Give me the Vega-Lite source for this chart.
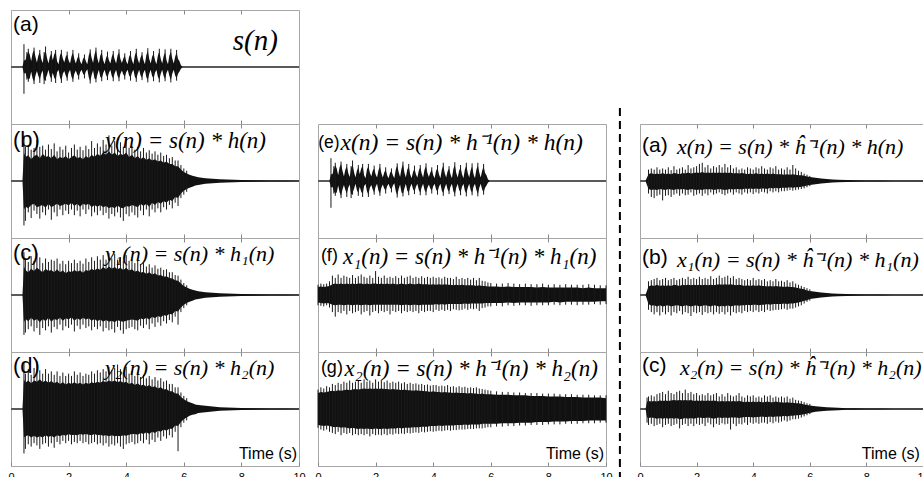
{
"$schema": "https://vega.github.io/schema/vega-lite/v6.json",
"padding": {"left": 7, "top": 9, "right": 0, "bottom": 0},
"background": "white",
"config": {"view": {"stroke": "#a6a6a6", "strokeWidth": 1}, "axis": {"grid": false, "domain": false}},
"datasets": {
"sA": [{"t":0.4,"h":0.01,"l":-0.01},{"t":0.45,"h":0.12,"l":-0.12,"u":0.4,"d":-0.47},{"t":0.5,"h":0.12,"l":-0.1},{"t":0.55,"h":0.2,"l":-0.18,"u":0.26,"d":-0.22},{"t":0.6,"h":0.28,"l":-0.22,"u":0.32,"d":-0.26},{"t":0.65,"h":0.22,"l":-0.2},{"t":0.7,"h":0.1,"l":-0.08},{"t":0.75,"h":0.24,"l":-0.2},{"t":0.8,"h":0.3,"l":-0.26,"u":0.34,"d":-0.3},{"t":0.85,"h":0.18,"l":-0.15},{"t":0.9,"h":0.08,"l":-0.07},{"t":0.95,"h":0.2,"l":-0.16},{"t":1.0,"h":0.26,"l":-0.22,"u":0.3,"d":-0.28},{"t":1.05,"h":0.14,"l":-0.12},{"t":1.1,"h":0.07,"l":-0.06},{"t":1.15,"h":0.22,"l":-0.24,"u":0.26,"d":-0.3},{"t":1.2,"h":0.3,"l":-0.2,"u":0.36,"d":-0.24},{"t":1.25,"h":0.16,"l":-0.14},{"t":1.3,"h":0.06,"l":-0.05},{"t":1.35,"h":0.18,"l":-0.16},{"t":1.4,"h":0.24,"l":-0.21,"u":0.28,"d":-0.26},{"t":1.45,"h":0.12,"l":-0.1},{"t":1.5,"h":0.22,"l":-0.19},{"t":1.55,"h":0.27,"l":-0.23,"u":0.3,"d":-0.28},{"t":1.6,"h":0.1,"l":-0.09},{"t":1.65,"h":0.05,"l":-0.05},{"t":1.7,"h":0.2,"l":-0.18},{"t":1.75,"h":0.26,"l":-0.24,"u":0.3,"d":-0.28},{"t":1.8,"h":0.15,"l":-0.12},{"t":1.85,"h":0.08,"l":-0.07},{"t":1.9,"h":0.18,"l":-0.15},{"t":1.95,"h":0.22,"l":-0.2,"u":0.27,"d":-0.24},{"t":2.0,"h":0.12,"l":-0.1},{"t":2.05,"h":0.06,"l":-0.05},{"t":2.1,"h":0.19,"l":-0.17},{"t":2.15,"h":0.25,"l":-0.22,"u":0.3,"d":-0.26},{"t":2.2,"h":0.14,"l":-0.12},{"t":2.25,"h":0.06,"l":-0.06},{"t":2.3,"h":0.15,"l":-0.13},{"t":2.35,"h":0.2,"l":-0.17,"u":0.24,"d":-0.22},{"t":2.4,"h":0.1,"l":-0.09},{"t":2.45,"h":0.05,"l":-0.05},{"t":2.5,"h":0.14,"l":-0.12},{"t":2.55,"h":0.18,"l":-0.15,"u":0.22,"d":-0.2},{"t":2.6,"h":0.1,"l":-0.08},{"t":2.65,"h":0.05,"l":-0.04},{"t":2.7,"h":0.2,"l":-0.18},{"t":2.75,"h":0.27,"l":-0.25,"u":0.31,"d":-0.29},{"t":2.8,"h":0.16,"l":-0.14},{"t":2.85,"h":0.07,"l":-0.06},{"t":2.9,"h":0.22,"l":-0.2},{"t":2.95,"h":0.3,"l":-0.22,"u":0.34,"d":-0.27},{"t":3.0,"h":0.15,"l":-0.13},{"t":3.05,"h":0.06,"l":-0.05},{"t":3.1,"h":0.2,"l":-0.17},{"t":3.15,"h":0.25,"l":-0.2,"u":0.3,"d":-0.25},{"t":3.2,"h":0.12,"l":-0.11},{"t":3.25,"h":0.05,"l":-0.05},{"t":3.3,"h":0.16,"l":-0.14},{"t":3.35,"h":0.22,"l":-0.19,"u":0.27,"d":-0.23},{"t":3.4,"h":0.12,"l":-0.1},{"t":3.45,"h":0.06,"l":-0.05},{"t":3.5,"h":0.18,"l":-0.16},{"t":3.55,"h":0.24,"l":-0.2,"u":0.28,"d":-0.25},{"t":3.6,"h":0.13,"l":-0.11},{"t":3.65,"h":0.06,"l":-0.05},{"t":3.7,"h":0.2,"l":-0.16},{"t":3.75,"h":0.26,"l":-0.2,"u":0.31,"d":-0.25},{"t":3.8,"h":0.14,"l":-0.12},{"t":3.85,"h":0.07,"l":-0.06},{"t":3.9,"h":0.15,"l":-0.13},{"t":3.95,"h":0.2,"l":-0.17,"u":0.24,"d":-0.22},{"t":4.0,"h":0.1,"l":-0.09},{"t":4.05,"h":0.05,"l":-0.05},{"t":4.1,"h":0.18,"l":-0.15},{"t":4.15,"h":0.23,"l":-0.19,"u":0.28,"d":-0.24},{"t":4.2,"h":0.12,"l":-0.1},{"t":4.25,"h":0.05,"l":-0.05},{"t":4.3,"h":0.2,"l":-0.17},{"t":4.35,"h":0.27,"l":-0.21,"u":0.32,"d":-0.26},{"t":4.4,"h":0.14,"l":-0.12},{"t":4.45,"h":0.06,"l":-0.05},{"t":4.5,"h":0.17,"l":-0.15},{"t":4.55,"h":0.22,"l":-0.19,"u":0.26,"d":-0.23},{"t":4.6,"h":0.12,"l":-0.1},{"t":4.65,"h":0.05,"l":-0.05},{"t":4.7,"h":0.21,"l":-0.18},{"t":4.75,"h":0.28,"l":-0.23,"u":0.33,"d":-0.27},{"t":4.8,"h":0.14,"l":-0.12},{"t":4.85,"h":0.06,"l":-0.05},{"t":4.9,"h":0.18,"l":-0.16},{"t":4.95,"h":0.24,"l":-0.2,"u":0.28,"d":-0.25},{"t":5.0,"h":0.12,"l":-0.1},{"t":5.05,"h":0.05,"l":-0.05},{"t":5.1,"h":0.2,"l":-0.17},{"t":5.15,"h":0.27,"l":-0.22,"u":0.32,"d":-0.27},{"t":5.2,"h":0.14,"l":-0.12},{"t":5.25,"h":0.06,"l":-0.05},{"t":5.3,"h":0.19,"l":-0.16},{"t":5.35,"h":0.26,"l":-0.21,"u":0.31,"d":-0.25},{"t":5.4,"h":0.12,"l":-0.1},{"t":5.45,"h":0.05,"l":-0.05},{"t":5.5,"h":0.2,"l":-0.16},{"t":5.55,"h":0.27,"l":-0.23,"u":0.32,"d":-0.27},{"t":5.6,"h":0.15,"l":-0.12},{"t":5.65,"h":0.06,"l":-0.05},{"t":5.7,"h":0.18,"l":-0.15},{"t":5.75,"h":0.26,"l":-0.2,"u":0.3,"d":-0.24},{"t":5.8,"h":0.14,"l":-0.12},{"t":5.85,"h":0.1,"l":-0.08},{"t":5.9,"h":0.03,"l":-0.03},{"t":5.95,"h":0.01,"l":-0.01}],
"yB": [{"t":0.4,"h":0.02,"l":-0.02},{"t":0.45,"h":0.5,"l":-0.5,"u":0.8,"d":-0.78},{"t":0.5,"h":0.42,"l":-0.45,"u":0.6,"d":-0.7},{"t":0.6,"h":0.45,"l":-0.48,"u":0.62,"d":-0.55},{"t":0.7,"h":0.38,"l":-0.42,"u":0.55,"d":-0.65},{"t":0.8,"h":0.44,"l":-0.4,"u":0.58,"d":-0.52},{"t":0.9,"h":0.46,"l":-0.46,"u":0.72,"d":-0.58},{"t":1.0,"h":0.4,"l":-0.44,"u":0.6,"d":-0.66},{"t":1.1,"h":0.48,"l":-0.42,"u":0.62,"d":-0.55},{"t":1.2,"h":0.42,"l":-0.47,"u":0.55,"d":-0.6},{"t":1.3,"h":0.44,"l":-0.4,"u":0.64,"d":-0.5},{"t":1.4,"h":0.4,"l":-0.46,"u":0.56,"d":-0.68},{"t":1.5,"h":0.46,"l":-0.43,"u":0.66,"d":-0.55},{"t":1.6,"h":0.38,"l":-0.4,"u":0.52,"d":-0.62},{"t":1.7,"h":0.42,"l":-0.44,"u":0.6,"d":-0.5},{"t":1.8,"h":0.4,"l":-0.42,"u":0.55,"d":-0.6},{"t":1.9,"h":0.44,"l":-0.4,"u":0.62,"d":-0.52},{"t":2.0,"h":0.38,"l":-0.43,"u":0.5,"d":-0.58},{"t":2.1,"h":0.42,"l":-0.38,"u":0.58,"d":-0.5},{"t":2.2,"h":0.45,"l":-0.44,"u":0.64,"d":-0.6},{"t":2.3,"h":0.4,"l":-0.4,"u":0.55,"d":-0.52},{"t":2.4,"h":0.42,"l":-0.45,"u":0.6,"d":-0.62},{"t":2.5,"h":0.38,"l":-0.4,"u":0.54,"d":-0.5},{"t":2.6,"h":0.44,"l":-0.42,"u":0.62,"d":-0.58},{"t":2.7,"h":0.4,"l":-0.4,"u":0.56,"d":-0.5},{"t":2.8,"h":0.46,"l":-0.46,"u":0.7,"d":-0.62},{"t":2.9,"h":0.42,"l":-0.42,"u":0.58,"d":-0.55},{"t":3.0,"h":0.48,"l":-0.45,"u":0.66,"d":-0.6},{"t":3.1,"h":0.44,"l":-0.42,"u":0.6,"d":-0.52},{"t":3.2,"h":0.5,"l":-0.46,"u":0.72,"d":-0.6},{"t":3.3,"h":0.46,"l":-0.44,"u":0.64,"d":-0.56},{"t":3.4,"h":0.52,"l":-0.48,"u":0.8,"d":-0.66},{"t":3.5,"h":0.46,"l":-0.45,"u":0.62,"d":-0.58},{"t":3.6,"h":0.5,"l":-0.48,"u":0.7,"d":-0.62},{"t":3.7,"h":0.44,"l":-0.43,"u":0.6,"d":-0.55},{"t":3.8,"h":0.48,"l":-0.47,"u":0.68,"d":-0.64},{"t":3.9,"h":0.45,"l":-0.48,"u":0.6,"d":-0.7},{"t":4.0,"h":0.5,"l":-0.44,"u":0.74,"d":-0.58},{"t":4.1,"h":0.42,"l":-0.45,"u":0.58,"d":-0.62},{"t":4.2,"h":0.46,"l":-0.42,"u":0.62,"d":-0.55},{"t":4.3,"h":0.4,"l":-0.44,"u":0.55,"d":-0.6},{"t":4.4,"h":0.44,"l":-0.46,"u":0.6,"d":-0.64},{"t":4.5,"h":0.38,"l":-0.4,"u":0.52,"d":-0.52},{"t":4.6,"h":0.42,"l":-0.44,"u":0.58,"d":-0.6},{"t":4.7,"h":0.37,"l":-0.4,"u":0.5,"d":-0.5},{"t":4.8,"h":0.4,"l":-0.45,"u":0.54,"d":-0.62},{"t":4.9,"h":0.36,"l":-0.38,"u":0.48,"d":-0.5},{"t":5.0,"h":0.38,"l":-0.42,"u":0.52,"d":-0.55},{"t":5.1,"h":0.34,"l":-0.37,"u":0.46,"d":-0.48},{"t":5.2,"h":0.36,"l":-0.4,"u":0.5,"d":-0.55},{"t":5.3,"h":0.32,"l":-0.35,"u":0.44,"d":-0.46},{"t":5.4,"h":0.34,"l":-0.38,"u":0.46,"d":-0.5},{"t":5.5,"h":0.3,"l":-0.33,"u":0.4,"d":-0.42},{"t":5.6,"h":0.3,"l":-0.35,"u":0.42,"d":-0.48},{"t":5.7,"h":0.26,"l":-0.28,"u":0.36,"d":-0.38},{"t":5.8,"h":0.26,"l":-0.3,"u":0.36,"d":-0.44},{"t":5.9,"h":0.2,"l":-0.22,"u":0.28,"d":-0.3},{"t":6.0,"h":0.16,"l":-0.17,"u":0.22,"d":-0.24},{"t":6.1,"h":0.13,"l":-0.14,"u":0.18,"d":-0.19},{"t":6.2,"h":0.11,"l":-0.12},{"t":6.3,"h":0.09,"l":-0.1},{"t":6.4,"h":0.08,"l":-0.08},{"t":6.5,"h":0.065,"l":-0.07},{"t":6.75,"h":0.05,"l":-0.05},{"t":7.0,"h":0.04,"l":-0.04},{"t":7.25,"h":0.03,"l":-0.03},{"t":7.5,"h":0.025,"l":-0.025},{"t":8.0,"h":0.018,"l":-0.018},{"t":8.5,"h":0.012,"l":-0.012},{"t":9.0,"h":0.01,"l":-0.01},{"t":9.5,"h":0.008,"l":-0.008},{"t":10.0,"h":0.006,"l":-0.006}],
"yC": [{"t":0.4,"h":0.02,"l":-0.02},{"t":0.45,"h":0.5,"l":-0.48,"u":0.75,"d":-0.7},{"t":0.5,"h":0.44,"l":-0.42,"u":0.62,"d":-0.66},{"t":0.6,"h":0.4,"l":-0.46,"u":0.58,"d":-0.6},{"t":0.7,"h":0.46,"l":-0.4,"u":0.68,"d":-0.55},{"t":0.8,"h":0.42,"l":-0.45,"u":0.6,"d":-0.64},{"t":0.9,"h":0.48,"l":-0.42,"u":0.74,"d":-0.58},{"t":1.0,"h":0.44,"l":-0.48,"u":0.66,"d":-0.7},{"t":1.1,"h":0.4,"l":-0.42,"u":0.56,"d":-0.58},{"t":1.2,"h":0.46,"l":-0.46,"u":0.64,"d":-0.62},{"t":1.3,"h":0.42,"l":-0.4,"u":0.58,"d":-0.55},{"t":1.4,"h":0.44,"l":-0.47,"u":0.62,"d":-0.66},{"t":1.5,"h":0.4,"l":-0.42,"u":0.6,"d":-0.56},{"t":1.6,"h":0.45,"l":-0.44,"u":0.64,"d":-0.6},{"t":1.7,"h":0.4,"l":-0.4,"u":0.55,"d":-0.52},{"t":1.8,"h":0.43,"l":-0.45,"u":0.6,"d":-0.62},{"t":1.9,"h":0.38,"l":-0.41,"u":0.54,"d":-0.55},{"t":2.0,"h":0.42,"l":-0.43,"u":0.6,"d":-0.58},{"t":2.1,"h":0.4,"l":-0.39,"u":0.56,"d":-0.52},{"t":2.2,"h":0.44,"l":-0.45,"u":0.62,"d":-0.64},{"t":2.3,"h":0.41,"l":-0.41,"u":0.56,"d":-0.54},{"t":2.4,"h":0.43,"l":-0.44,"u":0.6,"d":-0.6},{"t":2.5,"h":0.39,"l":-0.4,"u":0.55,"d":-0.52},{"t":2.6,"h":0.44,"l":-0.43,"u":0.64,"d":-0.58},{"t":2.7,"h":0.42,"l":-0.41,"u":0.58,"d":-0.55},{"t":2.8,"h":0.46,"l":-0.45,"u":0.66,"d":-0.62},{"t":2.9,"h":0.43,"l":-0.42,"u":0.6,"d":-0.56},{"t":3.0,"h":0.47,"l":-0.46,"u":0.68,"d":-0.6},{"t":3.1,"h":0.44,"l":-0.43,"u":0.62,"d":-0.55},{"t":3.2,"h":0.49,"l":-0.47,"u":0.7,"d":-0.64},{"t":3.3,"h":0.45,"l":-0.44,"u":0.62,"d":-0.58},{"t":3.4,"h":0.5,"l":-0.47,"u":0.74,"d":-0.62},{"t":3.5,"h":0.46,"l":-0.45,"u":0.64,"d":-0.6},{"t":3.6,"h":0.49,"l":-0.48,"u":0.72,"d":-0.66},{"t":3.7,"h":0.45,"l":-0.44,"u":0.62,"d":-0.56},{"t":3.8,"h":0.48,"l":-0.46,"u":0.66,"d":-0.62},{"t":3.9,"h":0.44,"l":-0.47,"u":0.6,"d":-0.68},{"t":4.0,"h":0.48,"l":-0.45,"u":0.7,"d":-0.6},{"t":4.1,"h":0.43,"l":-0.44,"u":0.6,"d":-0.58},{"t":4.2,"h":0.45,"l":-0.43,"u":0.62,"d":-0.56},{"t":4.3,"h":0.41,"l":-0.44,"u":0.56,"d":-0.6},{"t":4.4,"h":0.43,"l":-0.45,"u":0.6,"d":-0.62},{"t":4.5,"h":0.39,"l":-0.41,"u":0.54,"d":-0.54},{"t":4.6,"h":0.41,"l":-0.43,"u":0.56,"d":-0.58},{"t":4.7,"h":0.37,"l":-0.4,"u":0.5,"d":-0.52},{"t":4.8,"h":0.4,"l":-0.43,"u":0.54,"d":-0.6},{"t":4.9,"h":0.36,"l":-0.38,"u":0.48,"d":-0.5},{"t":5.0,"h":0.38,"l":-0.41,"u":0.52,"d":-0.56},{"t":5.1,"h":0.34,"l":-0.37,"u":0.46,"d":-0.48},{"t":5.2,"h":0.35,"l":-0.39,"u":0.48,"d":-0.54},{"t":5.3,"h":0.32,"l":-0.35,"u":0.44,"d":-0.46},{"t":5.4,"h":0.33,"l":-0.37,"u":0.45,"d":-0.5},{"t":5.5,"h":0.3,"l":-0.33,"u":0.4,"d":-0.44},{"t":5.6,"h":0.29,"l":-0.34,"u":0.4,"d":-0.48},{"t":5.7,"h":0.26,"l":-0.28,"u":0.35,"d":-0.38},{"t":5.8,"h":0.25,"l":-0.29,"u":0.34,"d":-0.52},{"t":5.9,"h":0.2,"l":-0.22,"u":0.27,"d":-0.3},{"t":6.0,"h":0.16,"l":-0.17,"u":0.21,"d":-0.23},{"t":6.1,"h":0.13,"l":-0.14,"u":0.17,"d":-0.18},{"t":6.2,"h":0.11,"l":-0.12},{"t":6.3,"h":0.09,"l":-0.1},{"t":6.4,"h":0.08,"l":-0.08},{"t":6.5,"h":0.065,"l":-0.07},{"t":6.75,"h":0.05,"l":-0.05},{"t":7.0,"h":0.04,"l":-0.04},{"t":7.25,"h":0.03,"l":-0.03},{"t":7.5,"h":0.025,"l":-0.025},{"t":8.0,"h":0.018,"l":-0.018},{"t":8.5,"h":0.012,"l":-0.012},{"t":9.0,"h":0.01,"l":-0.01},{"t":9.5,"h":0.008,"l":-0.008},{"t":10.0,"h":0.006,"l":-0.006}],
"yD": [{"t":0.4,"h":0.02,"l":-0.02},{"t":0.45,"h":0.52,"l":-0.5,"u":0.82,"d":-0.78},{"t":0.5,"h":0.46,"l":-0.48,"u":0.62,"d":-0.7},{"t":0.6,"h":0.5,"l":-0.46,"u":0.7,"d":-0.62},{"t":0.7,"h":0.45,"l":-0.5,"u":0.6,"d":-0.66},{"t":0.8,"h":0.5,"l":-0.47,"u":0.72,"d":-0.6},{"t":0.9,"h":0.48,"l":-0.5,"u":0.84,"d":-0.64},{"t":1.0,"h":0.52,"l":-0.48,"u":0.68,"d":-0.7},{"t":1.1,"h":0.47,"l":-0.5,"u":0.62,"d":-0.62},{"t":1.2,"h":0.5,"l":-0.46,"u":0.7,"d":-0.6},{"t":1.3,"h":0.46,"l":-0.49,"u":0.62,"d":-0.66},{"t":1.4,"h":0.49,"l":-0.47,"u":0.66,"d":-0.6},{"t":1.5,"h":0.45,"l":-0.5,"u":0.6,"d":-0.68},{"t":1.6,"h":0.48,"l":-0.46,"u":0.66,"d":-0.58},{"t":1.7,"h":0.44,"l":-0.48,"u":0.58,"d":-0.62},{"t":1.8,"h":0.47,"l":-0.45,"u":0.64,"d":-0.56},{"t":1.9,"h":0.43,"l":-0.47,"u":0.58,"d":-0.6},{"t":2.0,"h":0.46,"l":-0.44,"u":0.62,"d":-0.56},{"t":2.1,"h":0.44,"l":-0.46,"u":0.58,"d":-0.62},{"t":2.2,"h":0.47,"l":-0.45,"u":0.66,"d":-0.58},{"t":2.3,"h":0.44,"l":-0.46,"u":0.6,"d":-0.6},{"t":2.4,"h":0.46,"l":-0.44,"u":0.64,"d":-0.56},{"t":2.5,"h":0.43,"l":-0.45,"u":0.58,"d":-0.6},{"t":2.6,"h":0.46,"l":-0.44,"u":0.62,"d":-0.58},{"t":2.7,"h":0.44,"l":-0.45,"u":0.6,"d":-0.62},{"t":2.8,"h":0.47,"l":-0.46,"u":0.66,"d":-0.6},{"t":2.9,"h":0.45,"l":-0.44,"u":0.62,"d":-0.58},{"t":3.0,"h":0.48,"l":-0.46,"u":0.68,"d":-0.62},{"t":3.1,"h":0.46,"l":-0.45,"u":0.64,"d":-0.6},{"t":3.2,"h":0.49,"l":-0.47,"u":0.7,"d":-0.64},{"t":3.3,"h":0.47,"l":-0.46,"u":0.66,"d":-0.6},{"t":3.4,"h":0.5,"l":-0.48,"u":0.74,"d":-0.66},{"t":3.5,"h":0.48,"l":-0.46,"u":0.68,"d":-0.62},{"t":3.6,"h":0.5,"l":-0.48,"u":0.72,"d":-0.64},{"t":3.7,"h":0.47,"l":-0.47,"u":0.78,"d":-0.6},{"t":3.8,"h":0.49,"l":-0.48,"u":0.7,"d":-0.66},{"t":3.9,"h":0.46,"l":-0.46,"u":0.64,"d":-0.7},{"t":4.0,"h":0.48,"l":-0.47,"u":0.74,"d":-0.62},{"t":4.1,"h":0.44,"l":-0.45,"u":0.62,"d":-0.6},{"t":4.2,"h":0.46,"l":-0.44,"u":0.66,"d":-0.58},{"t":4.3,"h":0.42,"l":-0.44,"u":0.58,"d":-0.62},{"t":4.4,"h":0.45,"l":-0.45,"u":0.64,"d":-0.6},{"t":4.5,"h":0.41,"l":-0.42,"u":0.56,"d":-0.56},{"t":4.6,"h":0.43,"l":-0.44,"u":0.6,"d":-0.6},{"t":4.7,"h":0.39,"l":-0.41,"u":0.54,"d":-0.54},{"t":4.8,"h":0.42,"l":-0.44,"u":0.58,"d":-0.62},{"t":4.9,"h":0.38,"l":-0.4,"u":0.52,"d":-0.54},{"t":5.0,"h":0.4,"l":-0.42,"u":0.56,"d":-0.58},{"t":5.1,"h":0.36,"l":-0.38,"u":0.5,"d":-0.5},{"t":5.2,"h":0.38,"l":-0.4,"u":0.54,"d":-0.56},{"t":5.3,"h":0.34,"l":-0.36,"u":0.48,"d":-0.48},{"t":5.4,"h":0.35,"l":-0.38,"u":0.5,"d":-0.52},{"t":5.5,"h":0.31,"l":-0.34,"u":0.44,"d":-0.46},{"t":5.6,"h":0.31,"l":-0.35,"u":0.44,"d":-0.5},{"t":5.7,"h":0.27,"l":-0.29,"u":0.38,"d":-0.4},{"t":5.8,"h":0.27,"l":-0.3,"u":0.38,"d":-0.74},{"t":5.9,"h":0.21,"l":-0.23,"u":0.29,"d":-0.32},{"t":6.0,"h":0.17,"l":-0.18,"u":0.23,"d":-0.24},{"t":6.1,"h":0.14,"l":-0.15,"u":0.19,"d":-0.2},{"t":6.2,"h":0.12,"l":-0.12},{"t":6.3,"h":0.1,"l":-0.1},{"t":6.4,"h":0.08,"l":-0.09},{"t":6.5,"h":0.07,"l":-0.07},{"t":6.75,"h":0.055,"l":-0.055},{"t":7.0,"h":0.042,"l":-0.042},{"t":7.25,"h":0.032,"l":-0.032},{"t":7.5,"h":0.026,"l":-0.026},{"t":8.0,"h":0.018,"l":-0.018},{"t":8.5,"h":0.012,"l":-0.012},{"t":9.0,"h":0.01,"l":-0.01},{"t":9.5,"h":0.008,"l":-0.008},{"t":10.0,"h":0.006,"l":-0.006}],
"xF": [{"t":0.0,"h":0.14,"l":-0.13,"u":0.18,"d":-0.18},{"t":0.1,"h":0.15,"l":-0.14,"u":0.2,"d":-0.19},{"t":0.2,"h":0.14,"l":-0.15,"u":0.19,"d":-0.2},{"t":0.3,"h":0.15,"l":-0.14,"u":0.2,"d":-0.18},{"t":0.4,"h":0.16,"l":-0.15,"u":0.24,"d":-0.22},{"t":0.5,"h":0.19,"l":-0.17,"u":0.34,"d":-0.3},{"t":0.6,"h":0.2,"l":-0.18,"u":0.3,"d":-0.38},{"t":0.7,"h":0.19,"l":-0.17,"u":0.36,"d":-0.3},{"t":0.8,"h":0.2,"l":-0.17,"u":0.3,"d":-0.32},{"t":0.9,"h":0.19,"l":-0.18,"u":0.34,"d":-0.28},{"t":1.0,"h":0.2,"l":-0.17,"u":0.32,"d":-0.34},{"t":1.1,"h":0.19,"l":-0.17,"u":0.3,"d":-0.28},{"t":1.2,"h":0.2,"l":-0.18,"u":0.35,"d":-0.32},{"t":1.3,"h":0.19,"l":-0.17,"u":0.3,"d":-0.3},{"t":1.4,"h":0.2,"l":-0.17,"u":0.33,"d":-0.28},{"t":1.5,"h":0.2,"l":-0.18,"u":0.36,"d":-0.34},{"t":1.6,"h":0.19,"l":-0.17,"u":0.32,"d":-0.3},{"t":1.7,"h":0.2,"l":-0.17,"u":0.3,"d":-0.28},{"t":1.8,"h":0.19,"l":-0.18,"u":0.34,"d":-0.36},{"t":1.9,"h":0.2,"l":-0.17,"u":0.3,"d":-0.3},{"t":2.0,"h":0.2,"l":-0.17,"u":0.42,"d":-0.28},{"t":2.1,"h":0.19,"l":-0.17,"u":0.32,"d":-0.32},{"t":2.2,"h":0.2,"l":-0.17,"u":0.3,"d":-0.28},{"t":2.3,"h":0.19,"l":-0.17,"u":0.34,"d":-0.3},{"t":2.4,"h":0.2,"l":-0.17,"u":0.3,"d":-0.28},{"t":2.5,"h":0.19,"l":-0.17,"u":0.32,"d":-0.34},{"t":2.6,"h":0.2,"l":-0.17,"u":0.3,"d":-0.28},{"t":2.7,"h":0.19,"l":-0.17,"u":0.33,"d":-0.3},{"t":2.8,"h":0.19,"l":-0.17,"u":0.3,"d":-0.28},{"t":2.9,"h":0.2,"l":-0.18,"u":0.34,"d":-0.32},{"t":3.0,"h":0.19,"l":-0.17,"u":0.3,"d":-0.28},{"t":3.1,"h":0.19,"l":-0.17,"u":0.32,"d":-0.3},{"t":3.2,"h":0.2,"l":-0.18,"u":0.34,"d":-0.28},{"t":3.3,"h":0.19,"l":-0.17,"u":0.3,"d":-0.3},{"t":3.4,"h":0.19,"l":-0.17,"u":0.32,"d":-0.28},{"t":3.5,"h":0.2,"l":-0.18,"u":0.3,"d":-0.32},{"t":3.6,"h":0.19,"l":-0.17,"u":0.33,"d":-0.28},{"t":3.7,"h":0.19,"l":-0.17,"u":0.3,"d":-0.3},{"t":3.8,"h":0.19,"l":-0.17,"u":0.32,"d":-0.28},{"t":3.9,"h":0.18,"l":-0.17,"u":0.3,"d":-0.28},{"t":4.0,"h":0.19,"l":-0.17,"u":0.32,"d":-0.3},{"t":4.1,"h":0.18,"l":-0.16,"u":0.3,"d":-0.26},{"t":4.2,"h":0.19,"l":-0.17,"u":0.31,"d":-0.28},{"t":4.3,"h":0.18,"l":-0.16,"u":0.29,"d":-0.26},{"t":4.4,"h":0.19,"l":-0.17,"u":0.32,"d":-0.28},{"t":4.5,"h":0.18,"l":-0.16,"u":0.3,"d":-0.26},{"t":4.6,"h":0.18,"l":-0.16,"u":0.3,"d":-0.28},{"t":4.7,"h":0.17,"l":-0.16,"u":0.28,"d":-0.25},{"t":4.8,"h":0.18,"l":-0.16,"u":0.32,"d":-0.26},{"t":4.9,"h":0.17,"l":-0.16,"u":0.28,"d":-0.27},{"t":5.0,"h":0.18,"l":-0.16,"u":0.3,"d":-0.26},{"t":5.1,"h":0.17,"l":-0.15,"u":0.28,"d":-0.24},{"t":5.2,"h":0.17,"l":-0.16,"u":0.3,"d":-0.26},{"t":5.3,"h":0.17,"l":-0.15,"u":0.27,"d":-0.24},{"t":5.4,"h":0.17,"l":-0.15,"u":0.3,"d":-0.25},{"t":5.5,"h":0.16,"l":-0.15,"u":0.26,"d":-0.24},{"t":5.6,"h":0.17,"l":-0.15,"u":0.3,"d":-0.28},{"t":5.7,"h":0.16,"l":-0.15,"u":0.25,"d":-0.23},{"t":5.8,"h":0.16,"l":-0.14,"u":0.24,"d":-0.22},{"t":5.9,"h":0.15,"l":-0.14,"u":0.22,"d":-0.2},{"t":6.0,"h":0.15,"l":-0.14,"u":0.21,"d":-0.2},{"t":6.2,"h":0.15,"l":-0.14,"u":0.2,"d":-0.19},{"t":6.4,"h":0.14,"l":-0.14,"u":0.2,"d":-0.2},{"t":6.6,"h":0.15,"l":-0.13,"u":0.21,"d":-0.18},{"t":6.8,"h":0.14,"l":-0.14,"u":0.2,"d":-0.19},{"t":7.0,"h":0.14,"l":-0.13,"u":0.19,"d":-0.18},{"t":7.2,"h":0.14,"l":-0.13,"u":0.2,"d":-0.18},{"t":7.4,"h":0.14,"l":-0.13,"u":0.19,"d":-0.19},{"t":7.6,"h":0.13,"l":-0.13,"u":0.19,"d":-0.18},{"t":7.8,"h":0.14,"l":-0.13,"u":0.2,"d":-0.18},{"t":8.0,"h":0.13,"l":-0.13,"u":0.18,"d":-0.18},{"t":8.2,"h":0.13,"l":-0.12,"u":0.19,"d":-0.17},{"t":8.4,"h":0.13,"l":-0.13,"u":0.18,"d":-0.18},{"t":8.6,"h":0.13,"l":-0.12,"u":0.19,"d":-0.17},{"t":8.8,"h":0.13,"l":-0.12,"u":0.18,"d":-0.17},{"t":9.0,"h":0.13,"l":-0.12,"u":0.18,"d":-0.18},{"t":9.2,"h":0.12,"l":-0.12,"u":0.18,"d":-0.17},{"t":9.4,"h":0.13,"l":-0.12,"u":0.19,"d":-0.17},{"t":9.6,"h":0.12,"l":-0.12,"u":0.18,"d":-0.16},{"t":9.8,"h":0.12,"l":-0.11,"u":0.17,"d":-0.17},{"t":10.0,"h":0.12,"l":-0.11,"u":0.17,"d":-0.16}],
"xG": [{"t":0.0,"h":0.28,"l":-0.28,"u":0.34,"d":-0.33},{"t":0.1,"h":0.3,"l":-0.29,"u":0.38,"d":-0.36},{"t":0.2,"h":0.29,"l":-0.3,"u":0.36,"d":-0.38},{"t":0.3,"h":0.3,"l":-0.29,"u":0.4,"d":-0.36},{"t":0.4,"h":0.31,"l":-0.3,"u":0.38,"d":-0.4},{"t":0.5,"h":0.32,"l":-0.31,"u":0.44,"d":-0.42},{"t":0.6,"h":0.31,"l":-0.32,"u":0.42,"d":-0.44},{"t":0.7,"h":0.33,"l":-0.31,"u":0.46,"d":-0.4},{"t":0.8,"h":0.32,"l":-0.33,"u":0.44,"d":-0.46},{"t":0.9,"h":0.33,"l":-0.32,"u":0.48,"d":-0.42},{"t":1.0,"h":0.34,"l":-0.33,"u":0.46,"d":-0.44},{"t":1.1,"h":0.33,"l":-0.34,"u":0.5,"d":-0.42},{"t":1.2,"h":0.34,"l":-0.33,"u":0.46,"d":-0.46},{"t":1.3,"h":0.35,"l":-0.34,"u":0.48,"d":-0.44},{"t":1.4,"h":0.34,"l":-0.35,"u":0.5,"d":-0.46},{"t":1.5,"h":0.35,"l":-0.34,"u":0.46,"d":-0.44},{"t":1.6,"h":0.36,"l":-0.35,"u":0.52,"d":-0.46},{"t":1.7,"h":0.35,"l":-0.34,"u":0.48,"d":-0.44},{"t":1.8,"h":0.36,"l":-0.35,"u":0.5,"d":-0.48},{"t":1.9,"h":0.35,"l":-0.35,"u":0.46,"d":-0.44},{"t":2.0,"h":0.36,"l":-0.34,"u":0.52,"d":-0.46},{"t":2.1,"h":0.35,"l":-0.35,"u":0.48,"d":-0.45},{"t":2.2,"h":0.36,"l":-0.35,"u":0.5,"d":-0.46},{"t":2.3,"h":0.35,"l":-0.34,"u":0.47,"d":-0.44},{"t":2.4,"h":0.35,"l":-0.35,"u":0.5,"d":-0.46},{"t":2.5,"h":0.34,"l":-0.34,"u":0.46,"d":-0.44},{"t":2.6,"h":0.35,"l":-0.34,"u":0.48,"d":-0.45},{"t":2.7,"h":0.34,"l":-0.34,"u":0.46,"d":-0.43},{"t":2.8,"h":0.34,"l":-0.33,"u":0.48,"d":-0.44},{"t":2.9,"h":0.33,"l":-0.34,"u":0.45,"d":-0.43},{"t":3.0,"h":0.34,"l":-0.33,"u":0.47,"d":-0.44},{"t":3.1,"h":0.33,"l":-0.33,"u":0.44,"d":-0.42},{"t":3.2,"h":0.33,"l":-0.33,"u":0.46,"d":-0.43},{"t":3.3,"h":0.32,"l":-0.32,"u":0.44,"d":-0.42},{"t":3.4,"h":0.33,"l":-0.32,"u":0.45,"d":-0.41},{"t":3.5,"h":0.32,"l":-0.32,"u":0.43,"d":-0.42},{"t":3.6,"h":0.32,"l":-0.31,"u":0.44,"d":-0.4},{"t":3.7,"h":0.31,"l":-0.31,"u":0.42,"d":-0.41},{"t":3.8,"h":0.31,"l":-0.31,"u":0.43,"d":-0.4},{"t":3.9,"h":0.3,"l":-0.3,"u":0.41,"d":-0.39},{"t":4.0,"h":0.31,"l":-0.3,"u":0.42,"d":-0.4},{"t":4.1,"h":0.3,"l":-0.3,"u":0.42,"d":-0.39},{"t":4.2,"h":0.3,"l":-0.29,"u":0.4,"d":-0.38},{"t":4.3,"h":0.29,"l":-0.3,"u":0.41,"d":-0.39},{"t":4.4,"h":0.3,"l":-0.29,"u":0.4,"d":-0.38},{"t":4.5,"h":0.29,"l":-0.29,"u":0.42,"d":-0.37},{"t":4.6,"h":0.29,"l":-0.29,"u":0.39,"d":-0.38},{"t":4.7,"h":0.28,"l":-0.29,"u":0.4,"d":-0.37},{"t":4.8,"h":0.29,"l":-0.28,"u":0.38,"d":-0.37},{"t":4.9,"h":0.28,"l":-0.28,"u":0.4,"d":-0.36},{"t":5.0,"h":0.28,"l":-0.28,"u":0.38,"d":-0.36},{"t":5.1,"h":0.28,"l":-0.27,"u":0.39,"d":-0.36},{"t":5.2,"h":0.27,"l":-0.28,"u":0.37,"d":-0.35},{"t":5.3,"h":0.28,"l":-0.27,"u":0.38,"d":-0.35},{"t":5.4,"h":0.27,"l":-0.27,"u":0.37,"d":-0.35},{"t":5.5,"h":0.27,"l":-0.27,"u":0.38,"d":-0.34},{"t":5.6,"h":0.26,"l":-0.27,"u":0.36,"d":-0.34},{"t":5.7,"h":0.27,"l":-0.26,"u":0.35,"d":-0.34},{"t":5.8,"h":0.26,"l":-0.26,"u":0.34,"d":-0.33},{"t":5.9,"h":0.26,"l":-0.26,"u":0.33,"d":-0.32},{"t":6.0,"h":0.26,"l":-0.26,"u":0.32,"d":-0.32},{"t":6.2,"h":0.25,"l":-0.26,"u":0.31,"d":-0.31},{"t":6.4,"h":0.25,"l":-0.25,"u":0.3,"d":-0.31},{"t":6.6,"h":0.25,"l":-0.25,"u":0.3,"d":-0.3},{"t":6.8,"h":0.24,"l":-0.25,"u":0.29,"d":-0.3},{"t":7.0,"h":0.24,"l":-0.24,"u":0.29,"d":-0.29},{"t":7.2,"h":0.24,"l":-0.24,"u":0.28,"d":-0.29},{"t":7.4,"h":0.23,"l":-0.24,"u":0.28,"d":-0.28},{"t":7.6,"h":0.23,"l":-0.23,"u":0.28,"d":-0.28},{"t":7.8,"h":0.23,"l":-0.23,"u":0.27,"d":-0.28},{"t":8.0,"h":0.22,"l":-0.23,"u":0.27,"d":-0.27},{"t":8.2,"h":0.22,"l":-0.22,"u":0.27,"d":-0.27},{"t":8.4,"h":0.22,"l":-0.22,"u":0.26,"d":-0.27},{"t":8.6,"h":0.21,"l":-0.22,"u":0.26,"d":-0.26},{"t":8.8,"h":0.21,"l":-0.21,"u":0.26,"d":-0.26},{"t":9.0,"h":0.21,"l":-0.21,"u":0.25,"d":-0.26},{"t":9.2,"h":0.2,"l":-0.21,"u":0.25,"d":-0.25},{"t":9.4,"h":0.2,"l":-0.2,"u":0.25,"d":-0.25},{"t":9.6,"h":0.2,"l":-0.2,"u":0.24,"d":-0.25},{"t":9.8,"h":0.2,"l":-0.2,"u":0.24,"d":-0.24},{"t":10.0,"h":0.19,"l":-0.2,"u":0.24,"d":-0.24}],
"rA": [{"t":0.2,"h":0.01,"l":-0.01},{"t":0.3,"h":0.12,"l":-0.14,"u":0.2,"d":-0.22},{"t":0.4,"h":0.14,"l":-0.16,"u":0.22,"d":-0.28},{"t":0.5,"h":0.12,"l":-0.15,"u":0.2,"d":-0.3},{"t":0.6,"h":0.13,"l":-0.16,"u":0.24,"d":-0.26},{"t":0.7,"h":0.12,"l":-0.14,"u":0.2,"d":-0.24},{"t":0.8,"h":0.14,"l":-0.15,"u":0.22,"d":-0.34},{"t":0.9,"h":0.12,"l":-0.16,"u":0.2,"d":-0.26},{"t":1.0,"h":0.13,"l":-0.14,"u":0.24,"d":-0.25},{"t":1.1,"h":0.12,"l":-0.15,"u":0.19,"d":-0.28},{"t":1.2,"h":0.14,"l":-0.16,"u":0.26,"d":-0.24},{"t":1.3,"h":0.13,"l":-0.14,"u":0.2,"d":-0.22},{"t":1.4,"h":0.12,"l":-0.15,"u":0.22,"d":-0.26},{"t":1.5,"h":0.14,"l":-0.14,"u":0.24,"d":-0.22},{"t":1.6,"h":0.13,"l":-0.15,"u":0.2,"d":-0.25},{"t":1.7,"h":0.15,"l":-0.16,"u":0.28,"d":-0.24},{"t":1.8,"h":0.13,"l":-0.14,"u":0.22,"d":-0.2},{"t":1.9,"h":0.14,"l":-0.15,"u":0.24,"d":-0.26},{"t":2.0,"h":0.15,"l":-0.16,"u":0.26,"d":-0.24},{"t":2.1,"h":0.14,"l":-0.15,"u":0.3,"d":-0.22},{"t":2.2,"h":0.16,"l":-0.16,"u":0.32,"d":-0.26},{"t":2.3,"h":0.14,"l":-0.14,"u":0.24,"d":-0.22},{"t":2.4,"h":0.15,"l":-0.15,"u":0.28,"d":-0.25},{"t":2.5,"h":0.14,"l":-0.14,"u":0.22,"d":-0.2},{"t":2.6,"h":0.15,"l":-0.16,"u":0.26,"d":-0.24},{"t":2.7,"h":0.14,"l":-0.15,"u":0.24,"d":-0.22},{"t":2.8,"h":0.15,"l":-0.14,"u":0.28,"d":-0.2},{"t":2.9,"h":0.14,"l":-0.15,"u":0.24,"d":-0.23},{"t":3.0,"h":0.15,"l":-0.16,"u":0.3,"d":-0.25},{"t":3.1,"h":0.14,"l":-0.15,"u":0.24,"d":-0.22},{"t":3.2,"h":0.15,"l":-0.14,"u":0.28,"d":-0.2},{"t":3.3,"h":0.13,"l":-0.15,"u":0.22,"d":-0.24},{"t":3.4,"h":0.14,"l":-0.14,"u":0.24,"d":-0.2},{"t":3.5,"h":0.13,"l":-0.14,"u":0.2,"d":-0.22},{"t":3.6,"h":0.14,"l":-0.15,"u":0.22,"d":-0.24},{"t":3.7,"h":0.13,"l":-0.13,"u":0.2,"d":-0.2},{"t":3.8,"h":0.12,"l":-0.14,"u":0.24,"d":-0.22},{"t":3.9,"h":0.13,"l":-0.13,"u":0.22,"d":-0.2},{"t":4.0,"h":0.12,"l":-0.14,"u":0.2,"d":-0.23},{"t":4.1,"h":0.14,"l":-0.13,"u":0.24,"d":-0.2},{"t":4.2,"h":0.12,"l":-0.14,"u":0.22,"d":-0.22},{"t":4.3,"h":0.13,"l":-0.13,"u":0.26,"d":-0.19},{"t":4.4,"h":0.12,"l":-0.13,"u":0.22,"d":-0.2},{"t":4.5,"h":0.13,"l":-0.14,"u":0.2,"d":-0.22},{"t":4.6,"h":0.12,"l":-0.12,"u":0.24,"d":-0.18},{"t":4.7,"h":0.13,"l":-0.13,"u":0.22,"d":-0.2},{"t":4.8,"h":0.12,"l":-0.12,"u":0.26,"d":-0.18},{"t":4.9,"h":0.12,"l":-0.13,"u":0.2,"d":-0.2},{"t":5.0,"h":0.12,"l":-0.12,"u":0.22,"d":-0.18},{"t":5.1,"h":0.11,"l":-0.12,"u":0.2,"d":-0.18},{"t":5.2,"h":0.12,"l":-0.12,"u":0.24,"d":-0.17},{"t":5.3,"h":0.11,"l":-0.11,"u":0.2,"d":-0.16},{"t":5.4,"h":0.12,"l":-0.12,"u":0.28,"d":-0.17},{"t":5.5,"h":0.11,"l":-0.11,"u":0.22,"d":-0.16},{"t":5.6,"h":0.1,"l":-0.11,"u":0.18,"d":-0.15},{"t":5.7,"h":0.1,"l":-0.1,"u":0.16,"d":-0.14},{"t":5.8,"h":0.09,"l":-0.09,"u":0.13,"d":-0.13},{"t":5.9,"h":0.08,"l":-0.08,"u":0.11,"d":-0.11},{"t":6.0,"h":0.07,"l":-0.07,"u":0.09,"d":-0.09},{"t":6.2,"h":0.055,"l":-0.055},{"t":6.4,"h":0.045,"l":-0.045},{"t":6.6,"h":0.035,"l":-0.035},{"t":6.8,"h":0.028,"l":-0.028},{"t":7.0,"h":0.022,"l":-0.022},{"t":7.3,"h":0.016,"l":-0.016},{"t":7.6,"h":0.012,"l":-0.012},{"t":8.0,"h":0.01,"l":-0.01},{"t":8.5,"h":0.008,"l":-0.008},{"t":9.0,"h":0.006,"l":-0.006},{"t":9.5,"h":0.004,"l":-0.004},{"t":10.0,"h":0.003,"l":-0.003}],
"rB": [{"t":0.2,"h":0.01,"l":-0.01},{"t":0.3,"h":0.15,"l":-0.16,"u":0.24,"d":-0.26},{"t":0.4,"h":0.17,"l":-0.19,"u":0.26,"d":-0.3},{"t":0.5,"h":0.16,"l":-0.18,"u":0.28,"d":-0.34},{"t":0.6,"h":0.18,"l":-0.2,"u":0.3,"d":-0.3},{"t":0.7,"h":0.16,"l":-0.18,"u":0.26,"d":-0.36},{"t":0.8,"h":0.17,"l":-0.2,"u":0.28,"d":-0.3},{"t":0.9,"h":0.16,"l":-0.19,"u":0.3,"d":-0.34},{"t":1.0,"h":0.17,"l":-0.18,"u":0.26,"d":-0.3},{"t":1.1,"h":0.16,"l":-0.2,"u":0.28,"d":-0.36},{"t":1.2,"h":0.18,"l":-0.19,"u":0.3,"d":-0.3},{"t":1.3,"h":0.17,"l":-0.18,"u":0.26,"d":-0.32},{"t":1.4,"h":0.16,"l":-0.19,"u":0.28,"d":-0.28},{"t":1.5,"h":0.18,"l":-0.2,"u":0.3,"d":-0.34},{"t":1.6,"h":0.17,"l":-0.18,"u":0.28,"d":-0.3},{"t":1.7,"h":0.18,"l":-0.19,"u":0.32,"d":-0.32},{"t":1.8,"h":0.17,"l":-0.2,"u":0.28,"d":-0.37},{"t":1.9,"h":0.18,"l":-0.19,"u":0.3,"d":-0.3},{"t":2.0,"h":0.17,"l":-0.18,"u":0.28,"d":-0.32},{"t":2.1,"h":0.18,"l":-0.2,"u":0.32,"d":-0.3},{"t":2.2,"h":0.17,"l":-0.19,"u":0.28,"d":-0.35},{"t":2.3,"h":0.18,"l":-0.18,"u":0.3,"d":-0.3},{"t":2.4,"h":0.17,"l":-0.19,"u":0.28,"d":-0.32},{"t":2.5,"h":0.18,"l":-0.2,"u":0.33,"d":-0.3},{"t":2.6,"h":0.17,"l":-0.18,"u":0.28,"d":-0.34},{"t":2.7,"h":0.18,"l":-0.19,"u":0.3,"d":-0.3},{"t":2.8,"h":0.19,"l":-0.2,"u":0.34,"d":-0.33},{"t":2.9,"h":0.18,"l":-0.19,"u":0.3,"d":-0.3},{"t":3.0,"h":0.19,"l":-0.2,"u":0.32,"d":-0.34},{"t":3.1,"h":0.18,"l":-0.18,"u":0.34,"d":-0.3},{"t":3.2,"h":0.19,"l":-0.2,"u":0.3,"d":-0.36},{"t":3.3,"h":0.18,"l":-0.19,"u":0.33,"d":-0.3},{"t":3.4,"h":0.17,"l":-0.18,"u":0.28,"d":-0.32},{"t":3.5,"h":0.18,"l":-0.19,"u":0.3,"d":-0.3},{"t":3.6,"h":0.17,"l":-0.18,"u":0.28,"d":-0.32},{"t":3.7,"h":0.16,"l":-0.18,"u":0.26,"d":-0.28},{"t":3.8,"h":0.17,"l":-0.17,"u":0.28,"d":-0.3},{"t":3.9,"h":0.16,"l":-0.18,"u":0.26,"d":-0.28},{"t":4.0,"h":0.17,"l":-0.17,"u":0.3,"d":-0.3},{"t":4.1,"h":0.16,"l":-0.17,"u":0.26,"d":-0.27},{"t":4.2,"h":0.17,"l":-0.18,"u":0.28,"d":-0.3},{"t":4.3,"h":0.16,"l":-0.17,"u":0.26,"d":-0.28},{"t":4.4,"h":0.16,"l":-0.17,"u":0.28,"d":-0.3},{"t":4.5,"h":0.15,"l":-0.16,"u":0.24,"d":-0.26},{"t":4.6,"h":0.16,"l":-0.17,"u":0.26,"d":-0.28},{"t":4.7,"h":0.15,"l":-0.16,"u":0.24,"d":-0.27},{"t":4.8,"h":0.16,"l":-0.16,"u":0.28,"d":-0.26},{"t":4.9,"h":0.15,"l":-0.16,"u":0.24,"d":-0.26},{"t":5.0,"h":0.15,"l":-0.16,"u":0.25,"d":-0.25},{"t":5.1,"h":0.14,"l":-0.15,"u":0.23,"d":-0.24},{"t":5.2,"h":0.15,"l":-0.16,"u":0.26,"d":-0.26},{"t":5.3,"h":0.14,"l":-0.15,"u":0.22,"d":-0.24},{"t":5.4,"h":0.14,"l":-0.15,"u":0.24,"d":-0.24},{"t":5.5,"h":0.13,"l":-0.14,"u":0.2,"d":-0.22},{"t":5.6,"h":0.12,"l":-0.13,"u":0.18,"d":-0.2},{"t":5.7,"h":0.11,"l":-0.12,"u":0.16,"d":-0.18},{"t":5.8,"h":0.1,"l":-0.1,"u":0.14,"d":-0.15},{"t":5.9,"h":0.08,"l":-0.09,"u":0.12,"d":-0.12},{"t":6.0,"h":0.07,"l":-0.07,"u":0.1,"d":-0.1},{"t":6.2,"h":0.055,"l":-0.055},{"t":6.4,"h":0.045,"l":-0.045},{"t":6.6,"h":0.035,"l":-0.035},{"t":6.8,"h":0.028,"l":-0.028},{"t":7.0,"h":0.022,"l":-0.022},{"t":7.3,"h":0.016,"l":-0.016},{"t":7.6,"h":0.012,"l":-0.012},{"t":8.0,"h":0.01,"l":-0.01},{"t":8.5,"h":0.008,"l":-0.008},{"t":9.0,"h":0.006,"l":-0.006},{"t":9.5,"h":0.004,"l":-0.004},{"t":10.0,"h":0.003,"l":-0.003}],
"rC": [{"t":0.2,"h":0.01,"l":-0.01},{"t":0.25,"h":0.13,"l":-0.15,"u":0.2,"d":-0.24},{"t":0.3,"h":0.14,"l":-0.16,"u":0.22,"d":-0.28},{"t":0.4,"h":0.13,"l":-0.15,"u":0.24,"d":-0.26},{"t":0.5,"h":0.14,"l":-0.16,"u":0.22,"d":-0.3},{"t":0.6,"h":0.13,"l":-0.17,"u":0.26,"d":-0.28},{"t":0.7,"h":0.15,"l":-0.16,"u":0.28,"d":-0.26},{"t":0.8,"h":0.14,"l":-0.17,"u":0.3,"d":-0.32},{"t":0.9,"h":0.15,"l":-0.16,"u":0.26,"d":-0.28},{"t":1.0,"h":0.14,"l":-0.17,"u":0.32,"d":-0.26},{"t":1.1,"h":0.15,"l":-0.16,"u":0.28,"d":-0.3},{"t":1.2,"h":0.16,"l":-0.17,"u":0.26,"d":-0.28},{"t":1.3,"h":0.15,"l":-0.16,"u":0.3,"d":-0.26},{"t":1.4,"h":0.16,"l":-0.18,"u":0.32,"d":-0.34},{"t":1.5,"h":0.15,"l":-0.17,"u":0.28,"d":-0.28},{"t":1.6,"h":0.16,"l":-0.16,"u":0.34,"d":-0.26},{"t":1.7,"h":0.15,"l":-0.17,"u":0.28,"d":-0.3},{"t":1.8,"h":0.16,"l":-0.16,"u":0.3,"d":-0.26},{"t":1.9,"h":0.14,"l":-0.17,"u":0.26,"d":-0.3},{"t":2.0,"h":0.15,"l":-0.16,"u":0.28,"d":-0.26},{"t":2.1,"h":0.14,"l":-0.15,"u":0.24,"d":-0.28},{"t":2.2,"h":0.15,"l":-0.16,"u":0.26,"d":-0.26},{"t":2.3,"h":0.14,"l":-0.16,"u":0.24,"d":-0.3},{"t":2.4,"h":0.15,"l":-0.15,"u":0.28,"d":-0.24},{"t":2.5,"h":0.14,"l":-0.16,"u":0.24,"d":-0.27},{"t":2.6,"h":0.15,"l":-0.17,"u":0.26,"d":-0.32},{"t":2.7,"h":0.14,"l":-0.16,"u":0.28,"d":-0.26},{"t":2.8,"h":0.13,"l":-0.15,"u":0.22,"d":-0.28},{"t":2.9,"h":0.14,"l":-0.16,"u":0.26,"d":-0.25},{"t":3.0,"h":0.13,"l":-0.15,"u":0.22,"d":-0.27},{"t":3.1,"h":0.14,"l":-0.16,"u":0.28,"d":-0.26},{"t":3.2,"h":0.13,"l":-0.15,"u":0.24,"d":-0.36},{"t":3.3,"h":0.14,"l":-0.15,"u":0.22,"d":-0.26},{"t":3.4,"h":0.13,"l":-0.15,"u":0.24,"d":-0.3},{"t":3.5,"h":0.14,"l":-0.16,"u":0.28,"d":-0.26},{"t":3.6,"h":0.13,"l":-0.15,"u":0.22,"d":-0.27},{"t":3.7,"h":0.12,"l":-0.14,"u":0.2,"d":-0.24},{"t":3.8,"h":0.13,"l":-0.14,"u":0.24,"d":-0.28},{"t":3.9,"h":0.12,"l":-0.14,"u":0.22,"d":-0.24},{"t":4.0,"h":0.13,"l":-0.15,"u":0.24,"d":-0.26},{"t":4.1,"h":0.12,"l":-0.14,"u":0.2,"d":-0.24},{"t":4.2,"h":0.13,"l":-0.14,"u":0.22,"d":-0.26},{"t":4.3,"h":0.12,"l":-0.13,"u":0.2,"d":-0.24},{"t":4.4,"h":0.12,"l":-0.14,"u":0.24,"d":-0.24},{"t":4.5,"h":0.13,"l":-0.14,"u":0.22,"d":-0.26},{"t":4.6,"h":0.12,"l":-0.13,"u":0.24,"d":-0.23},{"t":4.7,"h":0.12,"l":-0.14,"u":0.2,"d":-0.25},{"t":4.8,"h":0.13,"l":-0.13,"u":0.22,"d":-0.22},{"t":4.9,"h":0.12,"l":-0.13,"u":0.2,"d":-0.24},{"t":5.0,"h":0.12,"l":-0.13,"u":0.22,"d":-0.22},{"t":5.1,"h":0.11,"l":-0.12,"u":0.2,"d":-0.2},{"t":5.2,"h":0.12,"l":-0.13,"u":0.22,"d":-0.22},{"t":5.3,"h":0.11,"l":-0.12,"u":0.18,"d":-0.2},{"t":5.4,"h":0.11,"l":-0.12,"u":0.2,"d":-0.18},{"t":5.5,"h":0.1,"l":-0.11,"u":0.16,"d":-0.18},{"t":5.6,"h":0.1,"l":-0.11,"u":0.15,"d":-0.17},{"t":5.7,"h":0.09,"l":-0.1,"u":0.14,"d":-0.15},{"t":5.8,"h":0.08,"l":-0.09,"u":0.12,"d":-0.13},{"t":5.9,"h":0.07,"l":-0.08,"u":0.1,"d":-0.11},{"t":6.0,"h":0.06,"l":-0.07,"u":0.09,"d":-0.09},{"t":6.2,"h":0.05,"l":-0.05},{"t":6.4,"h":0.04,"l":-0.04},{"t":6.6,"h":0.032,"l":-0.032},{"t":6.8,"h":0.026,"l":-0.026},{"t":7.0,"h":0.02,"l":-0.02},{"t":7.3,"h":0.015,"l":-0.015},{"t":7.6,"h":0.012,"l":-0.012},{"t":8.0,"h":0.01,"l":-0.01},{"t":8.5,"h":0.008,"l":-0.008},{"t":9.0,"h":0.006,"l":-0.006},{"t":9.5,"h":0.004,"l":-0.004},{"t":10.0,"h":0.003,"l":-0.003}]
},
"spacing": 8,
"hconcat": [
{"vconcat": [
 {"width": 288, "height": 114, "data": {"name": "sA"}, "resolve": {"axis": {"x": "independent"}}, "layer": [
  {"mark": {"type": "rule", "color": "#5a5a5a", "strokeWidth": 1}, "encoding": {"y": {"datum": 0, "type": "quantitative", "scale": {"domain": [-1, 1]}, "axis": null}}},
  {"mark": {"type": "area", "color": "#111111"}, "encoding": {"x": {"field": "t", "type": "quantitative", "scale": {"domain": [0, 10]}, "axis": {"orient": "bottom", "values": [2, 4, 6, 8], "tickSize": -4, "tickColor": "#888888", "labels": false, "title": null}}, "y": {"field": "h", "type": "quantitative", "scale": {"domain": [-1, 1]}, "axis": null}, "y2": {"field": "l"}}},
  {"mark": {"type": "rule", "color": "#1a1a1a", "strokeWidth": 1}, "encoding": {"x": {"field": "t", "type": "quantitative", "scale": {"domain": [0, 10]}, "axis": {"orient": "top", "values": [2, 4, 6, 8], "tickSize": -4, "tickColor": "#888888", "labels": false, "title": null}}, "y": {"field": "u", "type": "quantitative", "scale": {"domain": [-1, 1]}, "axis": null}, "y2": {"field": "d"}}},
  {"data": {"values": [{"s": "(a)"}]}, "mark": {"type": "text", "align": "left", "baseline": "middle", "font": "Liberation Sans", "fontSize": 21, "color": "#000000"}, "encoding": {"x": {"datum": 0.07, "type": "quantitative", "scale": {"domain": [0, 10]}, "axis": null}, "y": {"datum": 0.74, "type": "quantitative", "scale": {"domain": [-1, 1]}, "axis": null}, "text": {"field": "s"}}},
  {"data": {"values": [{"s": "s(n)"}]}, "mark": {"type": "text", "align": "left", "baseline": "middle", "font": "Liberation Serif", "fontStyle": "italic", "fontSize": 29, "color": "#000000"}, "encoding": {"x": {"datum": 7.7, "type": "quantitative", "scale": {"domain": [0, 10]}, "axis": null}, "y": {"datum": 0.46, "type": "quantitative", "scale": {"domain": [-1, 1]}, "axis": null}, "text": {"field": "s"}}}
 ]},
 {"width": 288, "height": 114, "data": {"name": "yB"}, "resolve": {"axis": {"x": "independent"}}, "layer": [
  {"mark": {"type": "rule", "color": "#5a5a5a", "strokeWidth": 1}, "encoding": {"y": {"datum": 0, "type": "quantitative", "scale": {"domain": [-1, 1]}, "axis": null}}},
  {"mark": {"type": "area", "color": "#111111"}, "encoding": {"x": {"field": "t", "type": "quantitative", "scale": {"domain": [0, 10]}, "axis": {"orient": "bottom", "values": [2, 4, 6, 8], "tickSize": -4, "tickColor": "#888888", "labels": false, "title": null}}, "y": {"field": "h", "type": "quantitative", "scale": {"domain": [-1, 1]}, "axis": null}, "y2": {"field": "l"}}},
  {"mark": {"type": "rule", "color": "#1a1a1a", "strokeWidth": 1}, "encoding": {"x": {"field": "t", "type": "quantitative", "scale": {"domain": [0, 10]}, "axis": {"orient": "top", "values": [2, 4, 6, 8], "tickSize": -4, "tickColor": "#888888", "labels": false, "title": null}}, "y": {"field": "u", "type": "quantitative", "scale": {"domain": [-1, 1]}, "axis": null}, "y2": {"field": "d"}}},
  {"data": {"values": [{"s": "(b)"}]}, "mark": {"type": "text", "align": "left", "baseline": "middle", "font": "Liberation Sans", "fontSize": 22, "color": "#000000"}, "encoding": {"x": {"datum": 0.07, "type": "quantitative", "scale": {"domain": [0, 10]}, "axis": null}, "y": {"datum": 0.72, "type": "quantitative", "scale": {"domain": [-1, 1]}, "axis": null}, "text": {"field": "s"}}},
  {"data": {"values": [{"s": "y(n) = s(n) * h(n)"}]}, "mark": {"type": "text", "align": "left", "baseline": "middle", "font": "Liberation Serif", "fontStyle": "italic", "fontSize": 23, "color": "#000000"}, "encoding": {"x": {"datum": 3.26, "type": "quantitative", "scale": {"domain": [0, 10]}, "axis": null}, "y": {"datum": 0.7, "type": "quantitative", "scale": {"domain": [-1, 1]}, "axis": null}, "text": {"field": "s"}}}
 ]},
 {"width": 288, "height": 114, "data": {"name": "yC"}, "resolve": {"axis": {"x": "independent"}}, "layer": [
  {"mark": {"type": "rule", "color": "#5a5a5a", "strokeWidth": 1}, "encoding": {"y": {"datum": 0, "type": "quantitative", "scale": {"domain": [-1, 1]}, "axis": null}}},
  {"mark": {"type": "area", "color": "#111111"}, "encoding": {"x": {"field": "t", "type": "quantitative", "scale": {"domain": [0, 10]}, "axis": {"orient": "bottom", "values": [2, 4, 6, 8], "tickSize": -4, "tickColor": "#888888", "labels": false, "title": null}}, "y": {"field": "h", "type": "quantitative", "scale": {"domain": [-1, 1]}, "axis": null}, "y2": {"field": "l"}}},
  {"mark": {"type": "rule", "color": "#1a1a1a", "strokeWidth": 1}, "encoding": {"x": {"field": "t", "type": "quantitative", "scale": {"domain": [0, 10]}, "axis": {"orient": "top", "values": [2, 4, 6, 8], "tickSize": -4, "tickColor": "#888888", "labels": false, "title": null}}, "y": {"field": "u", "type": "quantitative", "scale": {"domain": [-1, 1]}, "axis": null}, "y2": {"field": "d"}}},
  {"data": {"values": [{"s": "(c)"}]}, "mark": {"type": "text", "align": "left", "baseline": "middle", "font": "Liberation Sans", "fontSize": 22, "color": "#000000"}, "encoding": {"x": {"datum": 0.07, "type": "quantitative", "scale": {"domain": [0, 10]}, "axis": null}, "y": {"datum": 0.74, "type": "quantitative", "scale": {"domain": [-1, 1]}, "axis": null}, "text": {"field": "s"}}},
  {"data": {"values": [{"s": "y₁(n) = s(n) * h₁(n)"}]}, "mark": {"type": "text", "align": "left", "baseline": "middle", "font": "Liberation Serif", "fontStyle": "italic", "fontSize": 22, "color": "#000000"}, "encoding": {"x": {"datum": 3.26, "type": "quantitative", "scale": {"domain": [0, 10]}, "axis": null}, "y": {"datum": 0.72, "type": "quantitative", "scale": {"domain": [-1, 1]}, "axis": null}, "text": {"field": "s"}}}
 ]},
 {"width": 288, "height": 114, "data": {"name": "yD"}, "resolve": {"axis": {"x": "independent"}}, "layer": [
  {"mark": {"type": "rule", "color": "#5a5a5a", "strokeWidth": 1}, "encoding": {"y": {"datum": 0, "type": "quantitative", "scale": {"domain": [-1, 1]}, "axis": null}}},
  {"mark": {"type": "area", "color": "#111111"}, "encoding": {"x": {"field": "t", "type": "quantitative", "scale": {"domain": [0, 10]}, "axis": {"orient": "bottom", "values": [0, 2, 4, 6, 8, 10], "tickSize": -4, "tickColor": "#888888", "labelFontSize": 11, "labelPadding": 9, "labelColor": "#000000", "labelFont": "Liberation Sans", "labelFlush": false, "title": null}}, "y": {"field": "h", "type": "quantitative", "scale": {"domain": [-1, 1]}, "axis": null}, "y2": {"field": "l"}}},
  {"mark": {"type": "rule", "color": "#1a1a1a", "strokeWidth": 1}, "encoding": {"x": {"field": "t", "type": "quantitative", "scale": {"domain": [0, 10]}, "axis": {"orient": "top", "values": [2, 4, 6, 8], "tickSize": -4, "tickColor": "#888888", "labels": false, "title": null}}, "y": {"field": "u", "type": "quantitative", "scale": {"domain": [-1, 1]}, "axis": null}, "y2": {"field": "d"}}},
  {"data": {"values": [{"s": "(d)"}]}, "mark": {"type": "text", "align": "left", "baseline": "middle", "font": "Liberation Sans", "fontSize": 22, "color": "#000000"}, "encoding": {"x": {"datum": 0.07, "type": "quantitative", "scale": {"domain": [0, 10]}, "axis": null}, "y": {"datum": 0.75, "type": "quantitative", "scale": {"domain": [-1, 1]}, "axis": null}, "text": {"field": "s"}}},
  {"data": {"values": [{"s": "y₂(n) = s(n) * h₂(n)"}]}, "mark": {"type": "text", "align": "left", "baseline": "middle", "font": "Liberation Serif", "fontStyle": "italic", "fontSize": 22, "color": "#000000"}, "encoding": {"x": {"datum": 3.26, "type": "quantitative", "scale": {"domain": [0, 10]}, "axis": null}, "y": {"datum": 0.72, "type": "quantitative", "scale": {"domain": [-1, 1]}, "axis": null}, "text": {"field": "s"}}},
  {"data": {"values": [{"s": "Time (s)"}]}, "mark": {"type": "text", "align": "right", "baseline": "alphabetic", "font": "Liberation Sans", "fontSize": 16, "color": "#000000"}, "encoding": {"x": {"datum": 9.93, "type": "quantitative", "scale": {"domain": [0, 10]}, "axis": null}, "y": {"datum": -0.88, "type": "quantitative", "scale": {"domain": [-1, 1]}, "axis": null}, "text": {"field": "s"}}}
 ]}
], "spacing": 0, "bounds": "flush"},
{"hconcat": [
 {"vconcat": [
  {"width": 288, "height": 114, "view": {"stroke": null}, "data": {"values": []}, "mark": "point", "encoding": {}},
  {"width": 288, "height": 114, "data": {"name": "sA"}, "resolve": {"axis": {"x": "independent"}}, "layer": [
   {"mark": {"type": "rule", "color": "#5a5a5a", "strokeWidth": 1}, "encoding": {"y": {"datum": 0, "type": "quantitative", "scale": {"domain": [-1, 1]}, "axis": null}}},
   {"mark": {"type": "area", "color": "#111111"}, "encoding": {"x": {"field": "t", "type": "quantitative", "scale": {"domain": [0, 10]}, "axis": {"orient": "bottom", "values": [2, 4, 6, 8], "tickSize": -4, "tickColor": "#888888", "labels": false, "title": null}}, "y": {"field": "h", "type": "quantitative", "scale": {"domain": [-1, 1]}, "axis": null}, "y2": {"field": "l"}}},
   {"mark": {"type": "rule", "color": "#1a1a1a", "strokeWidth": 1}, "encoding": {"x": {"field": "t", "type": "quantitative", "scale": {"domain": [0, 10]}, "axis": {"orient": "top", "values": [2, 4, 6, 8], "tickSize": -4, "tickColor": "#888888", "labels": false, "title": null}}, "y": {"field": "u", "type": "quantitative", "scale": {"domain": [-1, 1]}, "axis": null}, "y2": {"field": "d"}}},
   {"data": {"values": [{"s": "(e)"}]}, "mark": {"type": "text", "align": "left", "baseline": "middle", "font": "Liberation Sans", "fontSize": 17.5, "color": "#000000"}, "encoding": {"x": {"datum": 0.01, "type": "quantitative", "scale": {"domain": [0, 10]}, "axis": null}, "y": {"datum": 0.67, "type": "quantitative", "scale": {"domain": [-1, 1]}, "axis": null}, "text": {"field": "s"}}},
   {"data": {"values": [{"s": "x(n) = s(n) * h⁻¹(n) * h(n)"}]}, "mark": {"type": "text", "align": "left", "baseline": "middle", "font": "Liberation Serif", "fontStyle": "italic", "fontSize": 23.5, "color": "#000000"}, "encoding": {"x": {"datum": 0.78, "type": "quantitative", "scale": {"domain": [0, 10]}, "axis": null}, "y": {"datum": 0.66, "type": "quantitative", "scale": {"domain": [-1, 1]}, "axis": null}, "text": {"field": "s"}}}
  ]},
  {"width": 288, "height": 114, "data": {"name": "xF"}, "resolve": {"axis": {"x": "independent"}}, "layer": [
   {"mark": {"type": "rule", "color": "#5a5a5a", "strokeWidth": 1}, "encoding": {"y": {"datum": 0, "type": "quantitative", "scale": {"domain": [-1, 1]}, "axis": null}}},
   {"mark": {"type": "area", "color": "#111111"}, "encoding": {"x": {"field": "t", "type": "quantitative", "scale": {"domain": [0, 10]}, "axis": {"orient": "bottom", "values": [2, 4, 6, 8], "tickSize": -4, "tickColor": "#888888", "labels": false, "title": null}}, "y": {"field": "h", "type": "quantitative", "scale": {"domain": [-1, 1]}, "axis": null}, "y2": {"field": "l"}}},
   {"mark": {"type": "rule", "color": "#1a1a1a", "strokeWidth": 1}, "encoding": {"x": {"field": "t", "type": "quantitative", "scale": {"domain": [0, 10]}, "axis": {"orient": "top", "values": [2, 4, 6, 8], "tickSize": -4, "tickColor": "#888888", "labels": false, "title": null}}, "y": {"field": "u", "type": "quantitative", "scale": {"domain": [-1, 1]}, "axis": null}, "y2": {"field": "d"}}},
   {"data": {"values": [{"s": "(f)"}]}, "mark": {"type": "text", "align": "left", "baseline": "middle", "font": "Liberation Sans", "fontSize": 18, "color": "#000000"}, "encoding": {"x": {"datum": 0.1, "type": "quantitative", "scale": {"domain": [0, 10]}, "axis": null}, "y": {"datum": 0.68, "type": "quantitative", "scale": {"domain": [-1, 1]}, "axis": null}, "text": {"field": "s"}}},
   {"data": {"values": [{"s": "x₁(n) = s(n) * h⁻¹(n) * h₁(n)"}]}, "mark": {"type": "text", "align": "left", "baseline": "middle", "font": "Liberation Serif", "fontStyle": "italic", "fontSize": 23, "color": "#000000"}, "encoding": {"x": {"datum": 0.87, "type": "quantitative", "scale": {"domain": [0, 10]}, "axis": null}, "y": {"datum": 0.66, "type": "quantitative", "scale": {"domain": [-1, 1]}, "axis": null}, "text": {"field": "s"}}}
  ]},
  {"width": 288, "height": 114, "data": {"name": "xG"}, "resolve": {"axis": {"x": "independent"}}, "layer": [
   {"mark": {"type": "rule", "color": "#5a5a5a", "strokeWidth": 1}, "encoding": {"y": {"datum": 0, "type": "quantitative", "scale": {"domain": [-1, 1]}, "axis": null}}},
   {"mark": {"type": "area", "color": "#111111"}, "encoding": {"x": {"field": "t", "type": "quantitative", "scale": {"domain": [0, 10]}, "axis": {"orient": "bottom", "values": [0, 2, 4, 6, 8, 10], "tickSize": -4, "tickColor": "#888888", "labelFontSize": 11, "labelPadding": 9, "labelColor": "#000000", "labelFont": "Liberation Sans", "labelFlush": false, "title": null}}, "y": {"field": "h", "type": "quantitative", "scale": {"domain": [-1, 1]}, "axis": null}, "y2": {"field": "l"}}},
   {"mark": {"type": "rule", "color": "#1a1a1a", "strokeWidth": 1}, "encoding": {"x": {"field": "t", "type": "quantitative", "scale": {"domain": [0, 10]}, "axis": {"orient": "top", "values": [2, 4, 6, 8], "tickSize": -4, "tickColor": "#888888", "labels": false, "title": null}}, "y": {"field": "u", "type": "quantitative", "scale": {"domain": [-1, 1]}, "axis": null}, "y2": {"field": "d"}}},
   {"data": {"values": [{"s": "(g)"}]}, "mark": {"type": "text", "align": "left", "baseline": "middle", "font": "Liberation Sans", "fontSize": 18, "color": "#000000"}, "encoding": {"x": {"datum": 0.1, "type": "quantitative", "scale": {"domain": [0, 10]}, "axis": null}, "y": {"datum": 0.72, "type": "quantitative", "scale": {"domain": [-1, 1]}, "axis": null}, "text": {"field": "s"}}},
   {"data": {"values": [{"s": "x₂(n) = s(n) * h⁻¹(n) * h₂(n)"}]}, "mark": {"type": "text", "align": "left", "baseline": "middle", "font": "Liberation Serif", "fontStyle": "italic", "fontSize": 23, "color": "#000000"}, "encoding": {"x": {"datum": 0.92, "type": "quantitative", "scale": {"domain": [0, 10]}, "axis": null}, "y": {"datum": 0.7, "type": "quantitative", "scale": {"domain": [-1, 1]}, "axis": null}, "text": {"field": "s"}}},
   {"data": {"values": [{"s": "Time (s)"}]}, "mark": {"type": "text", "align": "right", "baseline": "alphabetic", "font": "Liberation Sans", "fontSize": 16, "color": "#000000"}, "encoding": {"x": {"datum": 9.93, "type": "quantitative", "scale": {"domain": [0, 10]}, "axis": null}, "y": {"datum": -0.88, "type": "quantitative", "scale": {"domain": [-1, 1]}, "axis": null}, "text": {"field": "s"}}}
  ]}
 ], "spacing": 0, "bounds": "flush"},
 {"width": 23, "height": 470, "view": {"stroke": null}, "data": {"values": [{"s": "divider"}]}, "mark": {"type": "rule", "strokeDash": [8, 5], "strokeWidth": 2, "color": "#000000"}, "encoding": {"x": {"datum": 0.3, "type": "quantitative", "scale": {"domain": [0, 1]}, "axis": null}, "y": {"datum": 0, "type": "quantitative", "scale": {"domain": [0, 1]}, "axis": null}, "y2": {"datum": 0.8}}},
 {"vconcat": [
  {"width": 283, "height": 114, "view": {"stroke": null}, "data": {"values": []}, "mark": "point", "encoding": {}},
  {"width": 283, "height": 114, "data": {"name": "rA"}, "resolve": {"axis": {"x": "independent"}}, "layer": [
   {"mark": {"type": "rule", "color": "#5a5a5a", "strokeWidth": 1}, "encoding": {"y": {"datum": 0, "type": "quantitative", "scale": {"domain": [-1, 1]}, "axis": null}}},
   {"mark": {"type": "area", "color": "#111111"}, "encoding": {"x": {"field": "t", "type": "quantitative", "scale": {"domain": [0, 10]}, "axis": {"orient": "bottom", "values": [2, 4, 6, 8], "tickSize": -4, "tickColor": "#888888", "labels": false, "title": null}}, "y": {"field": "h", "type": "quantitative", "scale": {"domain": [-1, 1]}, "axis": null}, "y2": {"field": "l"}}},
   {"mark": {"type": "rule", "color": "#1a1a1a", "strokeWidth": 1}, "encoding": {"x": {"field": "t", "type": "quantitative", "scale": {"domain": [0, 10]}, "axis": {"orient": "top", "values": [2, 4, 6, 8], "tickSize": -4, "tickColor": "#888888", "labels": false, "title": null}}, "y": {"field": "u", "type": "quantitative", "scale": {"domain": [-1, 1]}, "axis": null}, "y2": {"field": "d"}}},
   {"data": {"values": [{"s": "(a)"}]}, "mark": {"type": "text", "align": "left", "baseline": "middle", "font": "Liberation Sans", "fontSize": 21, "color": "#000000"}, "encoding": {"x": {"datum": 0.07, "type": "quantitative", "scale": {"domain": [0, 10]}, "axis": null}, "y": {"datum": 0.62, "type": "quantitative", "scale": {"domain": [-1, 1]}, "axis": null}, "text": {"field": "s"}}},
   {"data": {"values": [{"s": "x(n) = s(n) * ĥ⁻¹(n) * h(n)"}]}, "mark": {"type": "text", "align": "left", "baseline": "middle", "font": "Liberation Serif", "fontStyle": "italic", "fontSize": 22, "color": "#000000"}, "encoding": {"x": {"datum": 1.31, "type": "quantitative", "scale": {"domain": [0, 10]}, "axis": null}, "y": {"datum": 0.6, "type": "quantitative", "scale": {"domain": [-1, 1]}, "axis": null}, "text": {"field": "s"}}}
  ]},
  {"width": 283, "height": 114, "data": {"name": "rB"}, "resolve": {"axis": {"x": "independent"}}, "layer": [
   {"mark": {"type": "rule", "color": "#5a5a5a", "strokeWidth": 1}, "encoding": {"y": {"datum": 0, "type": "quantitative", "scale": {"domain": [-1, 1]}, "axis": null}}},
   {"mark": {"type": "area", "color": "#111111"}, "encoding": {"x": {"field": "t", "type": "quantitative", "scale": {"domain": [0, 10]}, "axis": {"orient": "bottom", "values": [2, 4, 6, 8], "tickSize": -4, "tickColor": "#888888", "labels": false, "title": null}}, "y": {"field": "h", "type": "quantitative", "scale": {"domain": [-1, 1]}, "axis": null}, "y2": {"field": "l"}}},
   {"mark": {"type": "rule", "color": "#1a1a1a", "strokeWidth": 1}, "encoding": {"x": {"field": "t", "type": "quantitative", "scale": {"domain": [0, 10]}, "axis": {"orient": "top", "values": [2, 4, 6, 8], "tickSize": -4, "tickColor": "#888888", "labels": false, "title": null}}, "y": {"field": "u", "type": "quantitative", "scale": {"domain": [-1, 1]}, "axis": null}, "y2": {"field": "d"}}},
   {"data": {"values": [{"s": "(b)"}]}, "mark": {"type": "text", "align": "left", "baseline": "middle", "font": "Liberation Sans", "fontSize": 21, "color": "#000000"}, "encoding": {"x": {"datum": 0.07, "type": "quantitative", "scale": {"domain": [0, 10]}, "axis": null}, "y": {"datum": 0.65, "type": "quantitative", "scale": {"domain": [-1, 1]}, "axis": null}, "text": {"field": "s"}}},
   {"data": {"values": [{"s": "x₁(n) = s(n) * ĥ⁻¹(n) * h₁(n)"}]}, "mark": {"type": "text", "align": "left", "baseline": "middle", "font": "Liberation Serif", "fontStyle": "italic", "fontSize": 22, "color": "#000000"}, "encoding": {"x": {"datum": 1.31, "type": "quantitative", "scale": {"domain": [0, 10]}, "axis": null}, "y": {"datum": 0.62, "type": "quantitative", "scale": {"domain": [-1, 1]}, "axis": null}, "text": {"field": "s"}}}
  ]},
  {"width": 283, "height": 114, "data": {"name": "rC"}, "resolve": {"axis": {"x": "independent"}}, "layer": [
   {"mark": {"type": "rule", "color": "#5a5a5a", "strokeWidth": 1}, "encoding": {"y": {"datum": 0, "type": "quantitative", "scale": {"domain": [-1, 1]}, "axis": null}}},
   {"mark": {"type": "area", "color": "#111111"}, "encoding": {"x": {"field": "t", "type": "quantitative", "scale": {"domain": [0, 10]}, "axis": {"orient": "bottom", "values": [0, 2, 4, 6, 8, 10], "tickSize": -4, "tickColor": "#888888", "labelFontSize": 11, "labelPadding": 9, "labelColor": "#000000", "labelFont": "Liberation Sans", "labelFlush": false, "title": null}}, "y": {"field": "h", "type": "quantitative", "scale": {"domain": [-1, 1]}, "axis": null}, "y2": {"field": "l"}}},
   {"mark": {"type": "rule", "color": "#1a1a1a", "strokeWidth": 1}, "encoding": {"x": {"field": "t", "type": "quantitative", "scale": {"domain": [0, 10]}, "axis": {"orient": "top", "values": [2, 4, 6, 8], "tickSize": -4, "tickColor": "#888888", "labels": false, "title": null}}, "y": {"field": "u", "type": "quantitative", "scale": {"domain": [-1, 1]}, "axis": null}, "y2": {"field": "d"}}},
   {"data": {"values": [{"s": "(c)"}]}, "mark": {"type": "text", "align": "left", "baseline": "middle", "font": "Liberation Sans", "fontSize": 21, "color": "#000000"}, "encoding": {"x": {"datum": 0.07, "type": "quantitative", "scale": {"domain": [0, 10]}, "axis": null}, "y": {"datum": 0.75, "type": "quantitative", "scale": {"domain": [-1, 1]}, "axis": null}, "text": {"field": "s"}}},
   {"data": {"values": [{"s": "x₂(n) = s(n) * ĥ⁻¹(n) * h₂(n)"}]}, "mark": {"type": "text", "align": "left", "baseline": "middle", "font": "Liberation Serif", "fontStyle": "italic", "fontSize": 22, "color": "#000000"}, "encoding": {"x": {"datum": 1.41, "type": "quantitative", "scale": {"domain": [0, 10]}, "axis": null}, "y": {"datum": 0.72, "type": "quantitative", "scale": {"domain": [-1, 1]}, "axis": null}, "text": {"field": "s"}}},
   {"data": {"values": [{"s": "Time (s)"}]}, "mark": {"type": "text", "align": "right", "baseline": "alphabetic", "font": "Liberation Sans", "fontSize": 16, "color": "#000000"}, "encoding": {"x": {"datum": 9.89, "type": "quantitative", "scale": {"domain": [0, 10]}, "axis": null}, "y": {"datum": -0.88, "type": "quantitative", "scale": {"domain": [-1, 1]}, "axis": null}, "text": {"field": "s"}}}
  ]}
 ], "spacing": 0, "bounds": "flush"}
], "spacing": 0}
]
}
